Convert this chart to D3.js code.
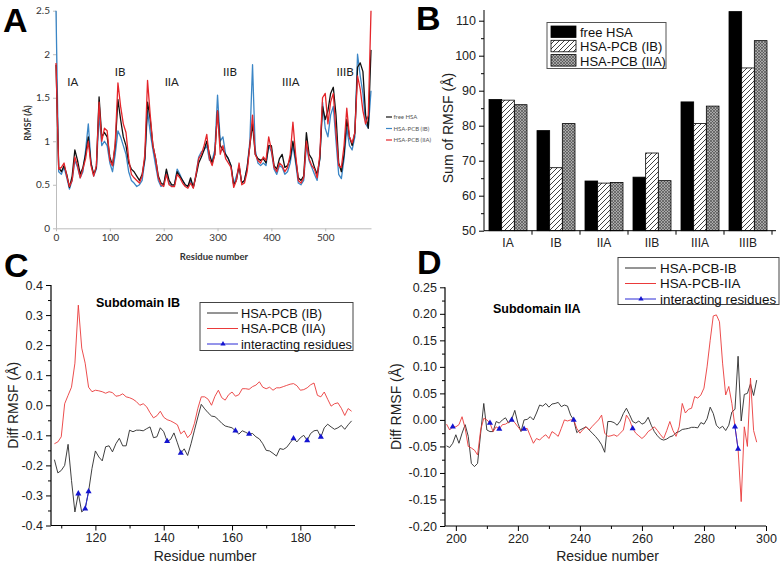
<!DOCTYPE html>
<meta charset="utf-8">
<script src="https://d3js.org/d3.v7.min.js"></script>
<style>
  body { margin: 0; background: #fff; }
  svg { display: block; background: #fff; }
  text { font-family: "Liberation Sans", Arial, sans-serif; }
</style>
<svg id="fig" width="784" height="565"></svg>

<script>

// ---------------- data ----------------

// Panel A: RMSF per residue (read every 5 residues)
const resA = d3.range(0, 586, 5);
const rmsfFree = [
  1.88,0.70,0.65,0.72,0.62,0.47,0.60,0.90,0.78,0.62,
  0.70,0.85,1.05,0.75,0.62,0.70,1.51,1.05,1.10,1.05,
  0.82,0.72,0.95,1.48,1.25,1.05,0.95,0.75,0.68,0.65,
  0.60,0.55,0.62,0.80,1.45,1.25,0.95,0.80,0.60,0.52,
  0.50,0.68,0.55,0.50,0.50,0.65,0.60,0.55,0.50,0.48,
  0.58,0.47,0.60,0.75,0.82,0.90,1.00,0.85,0.75,0.85,
  1.35,0.95,0.90,0.85,0.80,0.72,0.50,0.55,0.72,0.52,
  0.55,0.70,0.95,1.20,0.85,0.80,0.78,0.80,0.75,0.95,
  0.95,0.72,0.68,0.80,0.85,0.70,0.72,0.80,1.00,0.80,
  0.58,0.55,0.60,1.10,0.85,0.80,0.70,0.62,0.80,1.40,
  1.25,1.35,1.55,1.62,1.30,0.75,0.65,0.85,1.25,1.05,
  0.95,1.10,1.85,1.90,1.80,1.30,1.15,2.05];
const rmsfIB = [
  2.50,0.65,0.62,0.70,0.58,0.45,0.55,0.78,0.70,0.58,
  0.65,0.90,1.20,0.75,0.60,0.68,1.30,0.95,1.00,0.95,
  0.75,0.65,0.85,1.12,1.05,0.95,0.85,0.65,0.55,0.52,
  0.48,0.50,0.55,0.78,1.35,1.10,0.90,0.72,0.55,0.48,
  0.50,0.65,0.52,0.48,0.50,0.68,0.62,0.55,0.50,0.48,
  0.55,0.47,0.62,0.82,0.88,0.90,0.95,0.78,0.78,0.90,
  1.53,1.00,1.05,0.85,0.80,0.72,0.50,0.60,0.70,0.52,
  0.55,0.70,1.00,1.88,0.90,0.75,0.72,0.75,0.72,0.95,
  0.88,0.68,0.62,0.72,0.70,0.62,0.65,0.75,0.95,0.75,
  0.52,0.50,0.55,0.95,0.78,0.70,0.62,0.55,0.80,1.45,
  1.15,1.05,1.30,1.40,1.00,0.62,0.57,0.80,1.15,0.95,
  0.90,1.05,2.00,1.75,1.55,1.20,1.15,1.58];
const rmsfIIA = [
  1.90,0.68,0.70,0.75,0.60,0.48,0.55,0.82,0.72,0.58,
  0.68,0.80,1.00,0.72,0.60,0.72,1.45,1.00,1.15,1.12,
  0.78,0.72,0.98,1.67,1.40,1.20,1.10,0.80,0.62,0.58,
  0.55,0.52,0.60,0.85,1.70,1.30,0.95,0.80,0.58,0.50,
  0.48,0.62,0.50,0.48,0.48,0.62,0.58,0.52,0.48,0.46,
  0.52,0.46,0.62,0.80,0.85,0.95,1.08,0.80,0.72,0.85,
  1.35,0.85,0.95,0.80,0.75,0.70,0.47,0.55,0.75,0.50,
  0.52,0.65,0.95,1.30,0.85,0.78,0.75,0.82,0.78,1.05,
  0.90,0.70,0.65,0.75,0.72,0.65,0.70,0.85,1.22,0.85,
  0.55,0.52,0.58,1.00,0.80,0.72,0.68,0.58,0.85,1.50,
  1.55,1.20,1.45,1.55,1.10,0.72,0.70,0.95,1.38,1.05,
  0.98,1.10,1.75,1.60,1.35,1.20,1.30,2.50];
const domainLabels = ["IA","IB","IIA","IIB","IIIA","IIIB"];
const domainLabelRes = [31, 119, 215, 323, 436, 537];

// Panel B: sum of RMSF per subdomain
const subdomains = ["IA","IB","IIA","IIB","IIIA","IIIB"];
const sumFree = [87.5, 78.6, 64.2, 65.3, 86.8, 112.6];
const sumIB   = [87.3, 68.0, 63.6, 72.2, 80.6, 96.5];
const sumIIA  = [86.0, 80.6, 63.8, 64.3, 85.6, 104.3];
const seriesB = ["free HSA", "HSA-PCB (IB)", "HSA-PCB (IIA)"];

// Panel C: diff RMSF, subdomain IB (residues 108-195)
const resC = d3.range(108, 196);
const diffC_IB = [
  -0.181,-0.225,-0.217,-0.200,-0.130,-0.250,-0.355,-0.294,-0.355,-0.344,
  -0.287,-0.210,-0.152,-0.172,-0.185,-0.138,-0.135,-0.155,-0.128,-0.110,
  -0.135,-0.135,-0.083,-0.088,-0.083,-0.083,-0.085,-0.078,-0.072,-0.108,
  -0.105,-0.075,-0.088,-0.120,-0.114,-0.092,-0.125,-0.159,-0.145,-0.167,
  -0.128,-0.083,-0.039,0.003,-0.012,-0.025,-0.036,-0.038,-0.048,-0.060,
  -0.069,-0.072,-0.075,-0.085,-0.096,-0.085,-0.090,-0.096,-0.094,-0.105,
  -0.112,-0.128,-0.150,-0.152,-0.160,-0.169,-0.144,-0.147,-0.140,-0.125,
  -0.111,-0.122,-0.108,-0.100,-0.117,-0.094,-0.085,-0.083,-0.106,-0.075,
  -0.063,-0.072,-0.080,-0.075,-0.067,-0.080,-0.065,-0.052];
const diffC_IIA = [
  -0.128,-0.122,-0.105,0.005,0.033,0.060,0.140,0.333,0.190,0.140,
  0.060,0.045,0.050,0.048,0.045,0.040,0.045,0.042,0.030,0.032,
  0.038,0.028,0.025,0.020,0.012,0.000,0.005,-0.005,-0.025,-0.042,
  -0.035,-0.020,-0.040,-0.048,-0.052,-0.058,-0.065,-0.095,-0.085,-0.108,
  -0.095,-0.060,-0.010,0.028,0.028,0.020,0.000,0.030,0.050,0.025,
  0.017,0.035,0.044,0.030,0.035,0.055,0.055,0.053,0.062,0.067,
  0.078,0.060,0.055,0.060,0.050,0.058,0.058,0.062,0.066,0.070,
  0.072,0.065,0.050,0.052,0.058,0.068,0.074,0.033,0.028,0.044,
  0.020,-0.003,0.005,0.008,-0.010,-0.034,-0.011,-0.020];
const sitesC = [115, 117, 118, 141, 145, 161, 165, 178, 182, 186];

// Panel D: diff RMSF, subdomain IIA (residues 197-297)
const resD = d3.range(197, 298);
const diffD_IB = [
  -0.049,-0.052,-0.044,-0.028,-0.044,-0.025,-0.009,-0.031,-0.082,-0.088,
  -0.082,-0.025,0.031,-0.019,-0.022,-0.022,-0.003,-0.006,0.000,0.004,
  -0.006,0.001,0.018,-0.006,-0.022,0.000,0.001,0.006,0.000,0.013,
  0.028,0.026,0.031,0.024,0.030,0.031,0.033,0.025,0.028,0.026,
  0.009,0.000,-0.024,-0.019,-0.016,-0.013,-0.019,-0.025,-0.031,-0.038,
  -0.047,-0.061,-0.003,-0.003,-0.005,-0.010,-0.002,0.012,0.022,0.010,
  -0.003,-0.006,-0.002,-0.008,-0.005,0.005,-0.010,-0.022,-0.030,-0.036,
  -0.038,-0.036,-0.032,-0.030,-0.024,-0.022,-0.018,-0.017,-0.016,-0.014,
  -0.014,-0.015,-0.005,-0.008,0.002,0.024,0.012,-0.010,-0.016,-0.012,
  -0.020,-0.010,0.015,0.020,0.120,-0.002,0.048,0.050,0.068,0.046,
  0.075];
const diffD_IIA = [
  -0.008,-0.019,-0.013,-0.013,-0.009,0.006,-0.016,-0.050,-0.053,-0.057,
  -0.066,-0.019,0.003,0.000,-0.006,-0.022,-0.013,-0.017,-0.009,-0.008,
  -0.004,0.000,-0.005,-0.013,-0.020,-0.017,-0.016,-0.030,-0.044,-0.035,
  -0.038,-0.032,-0.028,-0.035,-0.022,-0.026,-0.031,-0.016,0.000,-0.002,
  0.000,0.000,-0.016,-0.025,-0.018,-0.013,-0.019,-0.012,-0.006,0.000,
  0.009,-0.025,-0.031,-0.030,-0.028,-0.031,-0.025,-0.019,0.009,0.000,
  -0.016,-0.025,-0.030,-0.035,-0.030,-0.022,-0.018,-0.013,-0.020,-0.028,
  -0.035,-0.020,-0.003,-0.020,-0.031,-0.013,0.031,0.013,0.020,0.022,
  0.044,0.041,0.047,0.060,0.100,0.150,0.196,0.198,0.185,0.107,
  0.047,0.063,0.031,-0.013,-0.055,-0.154,-0.013,-0.050,0.079,-0.020,
  -0.042];
const sitesD = [199, 211, 214, 218, 222, 238, 257, 290, 291];

// ---------------- drawing ----------------

const svg = d3.select("#fig");
const hyphen = f => d => f(d).replace("\u2212", "-");

// panel letters
svg.selectAll("panelLetter")
  .data([["A", 3, 32], ["B", 416, 30], ["C", 4, 277], ["D", 417, 274]])
  .join("text")
    .attr("x", d => d[1]).attr("y", d => d[2])
    .text(d => d[0])
    .style("font-size", "34px").style("font-weight", "bold");

// =============== Panel A ===============
const xA = d3.scaleLinear().domain([0, 585]).range([56, 371]);
const yA = d3.scaleLinear().domain([0, 2.5]).range([228.3, 10.7]);
const gA = svg.append("g");

gA.append("g")
    .attr("transform", "translate(0,228.3)")
    .call(d3.axisBottom(xA).tickValues(d3.range(0, 501, 100)).tickSize(3).tickSizeOuter(0))
    .call(g => g.selectAll("path, line").attr("stroke", "#bdbdbd"))
    .call(g => g.selectAll("text").attr("fill", "#333").style("font-size", "10px").style("font-family", "Lato, sans-serif"));

gA.append("g")
    .attr("transform", "translate(56,0)")
    .call(d3.axisLeft(yA).tickValues([0, 0.5, 1, 1.5, 2, 2.5]).tickFormat(d => String(d)).tickSize(3).tickSizeOuter(0))
    .call(g => g.selectAll("path, line").attr("stroke", "#bdbdbd"))
    .call(g => g.selectAll("text").attr("fill", "#333").style("font-size", "10px").style("font-family", "Lato, sans-serif"));

const lineA = d3.line().x((d, i) => xA(resA[i])).y(d => yA(d));
[[rmsfIB, "#3b86c6"], [rmsfFree, "#111"], [rmsfIIA, "#e4262b"]].forEach(([vals, col]) => {
  gA.append("path").datum(vals)
    .attr("d", lineA).attr("fill", "none")
    .attr("stroke", col).attr("stroke-width", 1.3).attr("stroke-linejoin", "round");
});

gA.selectAll("domainLabel")
  .data(domainLabels)
  .join("text")
    .attr("x", (d, i) => xA(domainLabelRes[i]))
    .attr("y", (d, i) => i % 2 ? 76 : 86)
    .attr("text-anchor", "middle")
    .text(d => d)
    .style("font-family", "Lato, sans-serif").style("font-size", "11.5px").attr("fill", "#222");

gA.append("text").attr("x", 214).attr("y", 260).attr("text-anchor", "middle")
  .text("Residue number").style("font-family", "Lato, sans-serif")
  .style("font-size", "9.5px").style("font-weight", "bold").attr("fill", "#333");
gA.append("text").attr("transform", "translate(31,123) rotate(-90)").attr("text-anchor", "middle")
  .text("RMSF (Å)").style("font-family", "Lato, sans-serif")
  .style("font-size", "8.5px").style("font-weight", "bold").attr("fill", "#333");

// tiny legend of panel A
const legA = [["free HSA", "#111"], ["HSA-PCB (IB)", "#3b86c6"], ["HSA-PCB (IIA)", "#e4262b"]];
legA.forEach(([name, col], i) => {
  const y = 117 + i * 11.5;
  gA.append("line").attr("x1", 386).attr("x2", 392).attr("y1", y).attr("y2", y)
    .attr("stroke", col).attr("stroke-width", 1.2);
  gA.append("text").attr("x", 393.5).attr("y", y + 2).text(name)
    .style("font-family", "Lato, sans-serif").style("font-size", "6px").attr("fill", "#555");
});

// =============== Panel B ===============
const defs = svg.append("defs");
const hatch = defs.append("pattern").attr("id", "hatch")
  .attr("patternUnits", "userSpaceOnUse").attr("width", 5).attr("height", 5);
hatch.append("rect").attr("width", 5).attr("height", 5).attr("fill", "#fff");
hatch.append("path").attr("d", "M-1,1 l2,-2 M0,5 l5,-5 M4,6 l2,-2")
  .attr("stroke", "#111").attr("stroke-width", 0.8);
const cross = defs.append("pattern").attr("id", "cross")
  .attr("patternUnits", "userSpaceOnUse").attr("width", 3).attr("height", 3);
cross.append("rect").attr("width", 3).attr("height", 3).attr("fill", "#a8a8a8");
cross.append("path").attr("d", "M0,3 L3,0 M0,0 L3,3")
  .attr("stroke", "#444").attr("stroke-width", 0.6);

const fillsB = ["#000", "url(#hatch)", "url(#cross)"];
const xB = d3.scaleBand().domain(subdomains).range([484, 772]);
const xSub = d3.scaleBand().domain(seriesB).range([5, 43]);
const yB = d3.scaleLinear().domain([50, 110]).range([230.7, 20.7]);
const gB = svg.append("g");

[sumFree, sumIB, sumIIA].forEach((vals, s) => {
  gB.selectAll("barB" + s)
    .data(vals)
    .join("rect")
      .attr("x", (d, i) => xB(subdomains[i]) + xSub(seriesB[s]))
      .attr("y", d => yB(d))
      .attr("width", xSub.bandwidth())
      .attr("height", d => yB(50) - yB(d))
      .attr("fill", fillsB[s])
      .attr("stroke", "#000").attr("stroke-width", 0.8);
});

gB.append("g")
    .attr("transform", "translate(484,0)")
    .call(d3.axisLeft(yB).tickValues(d3.range(50, 111, 10)).tickSize(5).tickSizeOuter(0))
    .call(g => g.select(".domain").remove())
    .call(g => g.selectAll("text").style("font-size", "12.5px").attr("fill", "#222"));
gB.append("g")
    .attr("transform", "translate(484,0)")
    .call(d3.axisLeft(yB).tickValues(d3.range(55, 111, 10)).tickSize(3).tickFormat(""))
    .call(g => g.select(".domain").remove());
gB.append("line").attr("x1", 484).attr("x2", 484).attr("y1", 10).attr("y2", yB(50)).attr("stroke", "#000");
gB.append("line").attr("x1", 484).attr("x2", 776).attr("y1", yB(50)).attr("y2", yB(50)).attr("stroke", "#000");
gB.selectAll("tickB")
  .data(subdomains)
  .join("line")
    .attr("x1", d => xB(d) + xB.bandwidth()).attr("x2", d => xB(d) + xB.bandwidth())
    .attr("y1", yB(50)).attr("y2", yB(50) + 4).attr("stroke", "#000");
gB.selectAll("catB")
  .data(subdomains)
  .join("text")
    .attr("x", d => xB(d) + xB.bandwidth() / 2)
    .attr("y", yB(50) + 16)
    .attr("text-anchor", "middle")
    .text(d => d)
    .style("font-size", "12px").attr("fill", "#222");
gB.append("text").attr("transform", "translate(453,128) rotate(-90)").attr("text-anchor", "middle")
  .text("Sum of RMSF (Å)").style("font-size", "14px").attr("fill", "#222");

// legend B
gB.append("rect").attr("x", 547).attr("y", 22.5).attr("width", 119).attr("height", 46)
  .attr("fill", "#fff").attr("stroke", "#555");
seriesB.forEach((name, i) => {
  gB.append("rect").attr("x", 551).attr("y", 26 + i * 14.3).attr("width", 25).attr("height", 11.5)
    .attr("fill", fillsB[i]).attr("stroke", "#000").attr("stroke-width", 0.8);
  gB.append("text").attr("x", 580).attr("y", 37 + i * 14.3).text(name)
    .style("font-size", "13px").attr("fill", "#111");
});

// =============== Panels C and D ===============
function diffPanel(opt) {
  const g = svg.append("g");
  const x = d3.scaleLinear().domain(opt.xDomain).range(opt.xRange);
  const y = d3.scaleLinear().domain(opt.yDomain).range(opt.yRange);
  const yBase = opt.yRange[0];

  g.append("g").attr("transform", `translate(0,${yBase})`)
    .call(d3.axisBottom(x).tickValues(opt.xMajor).tickSize(5).tickSizeOuter(0))
    .call(a => a.select(".domain").remove())
    .call(a => a.selectAll("text").style("font-size", "12.5px").attr("fill", "#222"));
  g.append("g").attr("transform", `translate(0,${yBase})`)
    .call(d3.axisBottom(x).tickValues(opt.xMinor).tickSize(3).tickFormat(""))
    .call(a => a.select(".domain").remove());
  g.append("g").attr("transform", `translate(${opt.xRange[0]},0)`)
    .call(d3.axisLeft(y).tickValues(opt.yMajor).tickSize(5).tickFormat(hyphen(d3.format(opt.yFmt))))
    .call(a => a.select(".domain").remove())
    .call(a => a.selectAll("text").style("font-size", "12.5px").attr("fill", "#222"));
  g.append("g").attr("transform", `translate(${opt.xRange[0]},0)`)
    .call(d3.axisLeft(y).tickValues(opt.yMinor).tickSize(3).tickFormat(""))
    .call(a => a.select(".domain").remove());
  g.append("line").attr("x1", opt.xRange[0]).attr("x2", opt.xRange[1])
    .attr("y1", yBase).attr("y2", yBase).attr("stroke", "#000").attr("stroke-width", 1.2);
  g.append("line").attr("x1", opt.xRange[0]).attr("x2", opt.xRange[0])
    .attr("y1", yBase).attr("y2", opt.yRange[1]).attr("stroke", "#000").attr("stroke-width", 1.2);

  const line = d3.line().x((d, i) => x(opt.res[i])).y(d => y(d));
  g.append("path").datum(opt.ib).attr("d", line).attr("fill", "none")
    .attr("stroke", "#2a2a2a").attr("stroke-width", 0.9);
  g.append("path").datum(opt.iia).attr("d", line).attr("fill", "none")
    .attr("stroke", "#ea3a3a").attr("stroke-width", 0.9);

  // interacting residues: blue triangles, joined where residues are consecutive
  const siteVal = r => opt.siteSeries[opt.res.indexOf(r)];
  opt.sites.forEach((r, i) => {
    const next = opt.sites[i + 1];
    if (next === r + 1) {
      g.append("line").attr("x1", x(r)).attr("y1", y(siteVal(r)))
        .attr("x2", x(next)).attr("y2", y(siteVal(next)))
        .attr("stroke", "#2b2bd6").attr("stroke-width", 1);
    }
  });
  g.selectAll("site")
    .data(opt.sites)
    .join("path")
      .attr("transform", d => `translate(${x(d)},${y(siteVal(d))})`)
      .attr("d", d3.symbol(d3.symbolTriangle, 16))
      .attr("fill", "#1414d0");

  g.append("text").attr("x", opt.title[1]).attr("y", opt.title[2]).text(opt.title[0])
    .style("font-size", "12.5px").style("font-weight", "bold");
  g.append("text").attr("x", (opt.xRange[0] + opt.xRange[1]) / 2 + 2).attr("y", 561)
    .attr("text-anchor", "middle").text("Residue number")
    .style("font-size", "14px").attr("fill", "#222");
  g.append("text").attr("transform", `translate(${opt.yLabelX},${(opt.yRange[0] + opt.yRange[1]) / 2}) rotate(-90)`)
    .attr("text-anchor", "middle").text("Diff RMSF (Å)")
    .style("font-size", "14px").attr("fill", "#222");

  // legend
  const L = opt.legend;
  g.append("rect").attr("x", L.x).attr("y", L.y).attr("width", L.w).attr("height", L.h)
    .attr("fill", "#fff").attr("stroke", "#444");
  L.names.forEach((name, i) => {
    const yy = L.y + 10.5 + i * 15.5;
    const col = ["#2a2a2a", "#ea3a3a", "#2b2bd6"][i];
    g.append("line").attr("x1", L.x + 7).attr("x2", L.x + 38).attr("y1", yy).attr("y2", yy)
      .attr("stroke", col).attr("stroke-width", 1);
    if (i === 2) {
      g.append("path").attr("transform", `translate(${L.x + 23},${yy})`)
        .attr("d", d3.symbol(d3.symbolTriangle, 12)).attr("fill", "#1414d0");
    }
    g.append("text").attr("x", L.x + L.textDx).attr("y", yy + 4.8).text(name)
      .style("font-size", L.fontSize).attr("fill", "#111");
  });
}

diffPanel({
  res: resC, ib: diffC_IB, iia: diffC_IIA, sites: sitesC, siteSeries: diffC_IB,
  xDomain: [107, 196], xRange: [51, 355],
  yDomain: [-0.4, 0.4], yRange: [525.5, 285],
  xMajor: [120, 140, 160, 180], xMinor: [110, 130, 150, 170, 190],
  yMajor: d3.range(-4, 5).map(d => d / 10), yMinor: d3.range(-3.5, 4, 1).map(d => d / 10),
  yFmt: ".1f", yLabelX: 18,
  title: ["Subdomain IB", 96, 307],
  legend: { x: 200, y: 302.5, w: 153, h: 48, textDx: 41, fontSize: "12.8px",
            names: ["HSA-PCB (IB)", "HSA-PCB (IIA)", "interacting residues"] }
});

diffPanel({
  res: resD, ib: diffD_IB, iia: diffD_IIA, sites: sitesD, siteSeries: diffD_IIA,
  xDomain: [196.5, 300], xRange: [445, 766],
  yDomain: [-0.2, 0.25], yRange: [526, 287.3],
  xMajor: [200, 220, 240, 260, 280, 300], xMinor: [210, 230, 250, 270, 290],
  yMajor: d3.range(-4, 6).map(d => d / 20), yMinor: d3.range(-3.5, 5, 1).map(d => d / 20),
  yFmt: ".2f", yLabelX: 401,
  title: ["Subdomain IIA", 493, 313],
  legend: { x: 618, y: 257.5, w: 161, h: 47, textDx: 42, fontSize: "13.4px",
            names: ["HSA-PCB-IB", "HSA-PCB-IIA", "interacting residues"] }
});

</script>
